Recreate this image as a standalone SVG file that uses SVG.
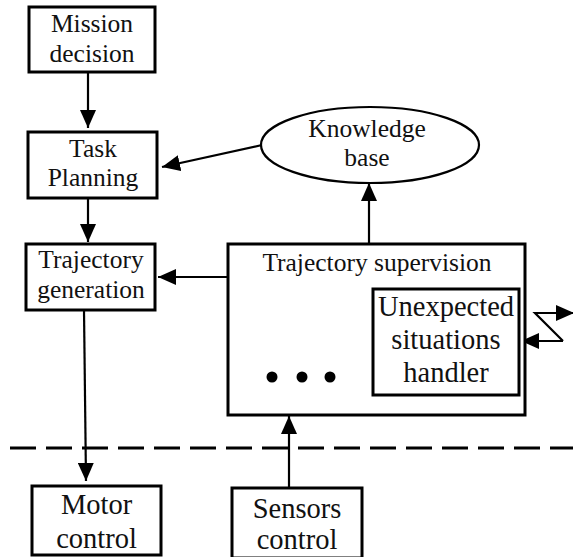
<svg xmlns="http://www.w3.org/2000/svg" width="573" height="557" viewBox="0 0 573 557">
<defs>
<marker id="ah" markerUnits="userSpaceOnUse" markerWidth="18" markerHeight="16" refX="18" refY="8" orient="auto" viewBox="0 0 18 16">
<path d="M0,0 L18,8 L0,16 z" fill="#000"/>
</marker>
<style>
.box{fill:#fff;stroke:#000;stroke-width:3}
text{font-family:'Liberation Serif','DejaVu Serif',serif;fill:#111;text-anchor:middle}
.t{font-size:25.5px}
.tl{font-size:28.5px}
.c{fill:none;stroke:#000;stroke-width:2.2}
</style>
</defs>
<rect width="573" height="557" fill="#fff"/>
<g id="connectors">
<line class="c" x1="88" y1="72" x2="88" y2="128" marker-end="url(#ah)"/>
<line class="c" x1="88" y1="198" x2="88" y2="242" marker-end="url(#ah)"/>
<line class="c" x1="262" y1="145" x2="162" y2="167" marker-end="url(#ah)"/>
<line class="c" x1="369" y1="244" x2="369" y2="183" marker-end="url(#ah)"/>
<line class="c" x1="228" y1="277" x2="158" y2="277" marker-end="url(#ah)"/>
<line class="c" x1="84" y1="310" x2="86" y2="481" marker-end="url(#ah)"/>
<line class="c" x1="289" y1="488" x2="289" y2="416" marker-end="url(#ah)"/>
<polyline class="c" points="563,341 535,313 574,313" marker-end="url(#ah)"/>
<line class="c" x1="563" y1="341" x2="521" y2="341" marker-end="url(#ah)"/>
<line x1="10" y1="448" x2="573" y2="448" stroke="#000" stroke-width="3.2" stroke-dasharray="26,10"/>
</g>
<g id="mission">
<rect class="box" x="29" y="7" width="126" height="65"/>
<text class="t" x="92" y="32" font-family="Liberation Serif">Mission</text>
<text class="t" x="92" y="62" font-family="Liberation Serif">decision</text>
</g>
<g id="task">
<rect class="box" x="28" y="132" width="129" height="66"/>
<text class="t" x="93" y="157">Task</text>
<text class="t" x="93" y="186">Planning</text>
</g>
<g id="trajgen">
<rect class="box" x="26" y="244" width="129" height="66"/>
<text class="t" x="91" y="268">Trajectory</text>
<text class="t" x="91" y="298">generation</text>
</g>
<g id="knowledge">
<ellipse cx="370" cy="145" rx="109" ry="38" fill="#fff" stroke="#000" stroke-width="2.2"/>
<text class="t" x="367" y="137">Knowledge</text>
<text class="t" x="367" y="166">base</text>
</g>
<g id="supervision">
<rect class="box" x="228" y="244" width="297" height="171" fill="none"/>
<text class="t" x="377" y="271">Trajectory supervision</text>
<circle cx="272" cy="377" r="5.5" fill="#000"/>
<circle cx="302" cy="377" r="5.5" fill="#000"/>
<circle cx="330" cy="377" r="5.5" fill="#000"/>
</g>
<g id="unexpected">
<rect class="box" x="373" y="289" width="146" height="106"/>
<text class="tl" x="446" y="316">Unexpected</text>
<text class="tl" x="446" y="349">situations</text>
<text class="tl" x="446" y="382">handler</text>
</g>
<g id="motor">
<rect class="box" x="32" y="486" width="129" height="69"/>
<text class="tl" x="96.5" y="514">Motor</text>
<text class="tl" x="96.5" y="548">control</text>
</g>
<g id="sensors">
<rect class="box" x="232" y="488" width="130" height="70"/>
<text class="tl" x="297" y="518">Sensors</text>
<text class="tl" x="297" y="549">control</text>
</g>
</svg>
